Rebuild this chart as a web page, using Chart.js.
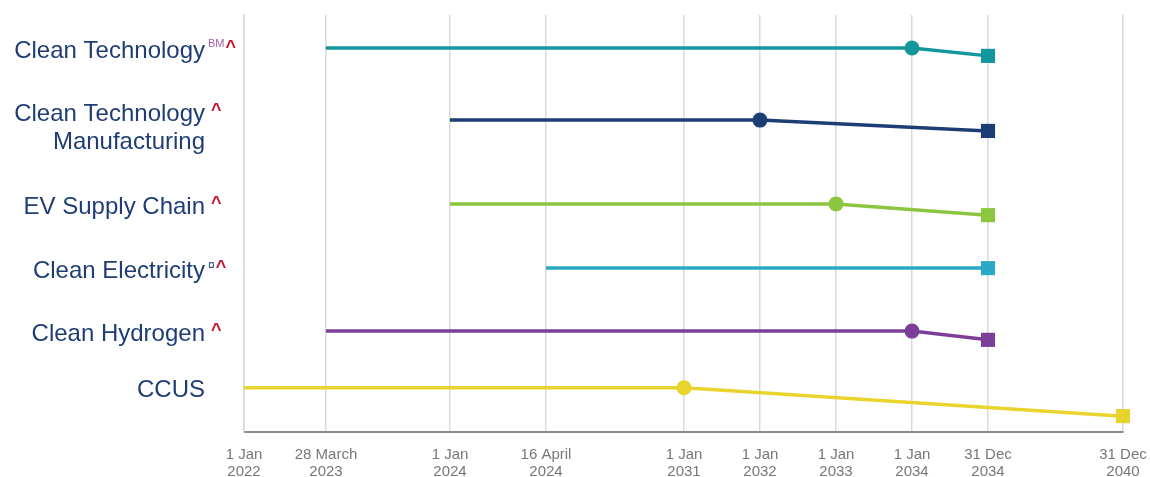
<!DOCTYPE html>
<html>
<head>
<meta charset="utf-8">
<script src="https://cdn.jsdelivr.net/npm/chart.js@4/dist/chart.umd.min.js"></script>
<style>
  html, body { margin: 0; padding: 0; background: #fff; }
  #wrap { width: 1150px; height: 477px; }
</style>
</head>
<body>
<div id="wrap"><canvas id="timeline"></canvas></div>
<script>
// timeline ticks (the axis is schematic, not proportional to time)
var tickLabels = [
  ['1 Jan', '2022'], ['28 March', '2023'], ['1 Jan', '2024'], ['16 April', '2024'],
  ['1 Jan', '2031'], ['1 Jan', '2032'], ['1 Jan', '2033'], ['1 Jan', '2034'],
  ['31 Dec', '2034'], ['31 Dec', '2040']
];
var tickOffsets = [0, 82, 206, 302, 440, 516, 592, 668, 744, 879];

var categories = ['Clean Technology', 'Clean Technology\nManufacturing', 'EV Supply Chain',
  'Clean Electricity', 'Clean Hydrogen', 'CCUS'];
var colors = ['#12979c', '#1d3e74', '#8cc640', '#2aa9c6', '#7c3f99', '#e8d42c'];

// index into tickLabels for start, milestone (circle) and end (square)
var startTick     = [1, 2, 2, 3, 1, 0];
var milestoneTick = [7, 5, 6, null, 7, 4];
var endTick       = [8, 8, 8, 8, 8, 9];
// vertical level (0 = top, 10 = bottom)
var rowLevel = [0.79, 2.52, 4.53, 6.07, 7.58, 8.94];
var endLevel = [0.98, 2.78, 4.80, 6.07, 7.79, 9.62];

var red = '#c8102e';
var navy = '#1f3d74';
// superscript notes: text, colour, font size, raise above baseline
var notes = [
  [['BM', '#a55eaa', 11, 11], ['^', red, 18, 5]],
  [['^', red, 18, 5]],
  [['^', red, 18, 5]],
  [['\u00a4', navy, 12, 9], ['^', red, 18, 5]],
  [['^', red, 18, 5]],
  []
];

var datasets = categories.map(function(name, i) {
  var pts = [{x: tickOffsets[startTick[i]], y: rowLevel[i]}];
  var styles = [false], radii = [0];
  if (milestoneTick[i] !== null) {
    pts.push({x: tickOffsets[milestoneTick[i]], y: rowLevel[i]});
    styles.push('circle'); radii.push(7.5);
  }
  pts.push({x: tickOffsets[endTick[i]], y: endLevel[i]});
  styles.push('rect'); radii.push(10);
  return {
    label: name.replace('\n', ' '),
    data: pts,
    borderColor: colors[i],
    backgroundColor: colors[i],
    borderWidth: 3.5,
    pointStyle: styles,
    pointRadius: radii,
    pointBorderWidth: 0,
    pointHoverRadius: radii,
    tension: 0,
    clip: false
  };
});

var rowLabels = {
  id: 'rowLabels',
  afterDraw: function(chart) {
    var ctx = chart.ctx;
    var ys = chart.scales.y;
    ctx.save();
    categories.forEach(function(name, i) {
      var lines = name.split('\n');
      var y = ys.getPixelForValue(rowLevel[i]);
      var centers = lines.length > 1 ? [y - 8, y + 20] : [y + 1];
      ctx.font = '24px "Liberation Sans", Arial, sans-serif';
      ctx.fillStyle = navy;
      ctx.textAlign = 'right';
      ctx.textBaseline = 'alphabetic';
      lines.forEach(function(l, k) {
        ctx.fillText(l, 205, centers[k] + 8.6);
      });
      var x = notes[i].length === 1 ? 211 : 208;
      var base = centers[0] + 8.6;
      ctx.textAlign = 'left';
      notes[i].forEach(function(n) {
        ctx.font = (n[0] === '^' ? 'bold ' : '') + n[2] + 'px "Liberation Sans", Arial, sans-serif';
        ctx.fillStyle = n[1];
        ctx.fillText(n[0], x, base - n[3]);
        x += ctx.measureText(n[0]).width + 1;
      });
    });
    ctx.restore();
  }
};

new Chart(document.getElementById('timeline'), {
  type: 'line',
  data: { datasets: datasets },
  options: {
    responsive: true,
    maintainAspectRatio: false,
    animation: false,
    layout: { padding: { top: 15, right: 27, left: 0, bottom: 0 } },
    plugins: { legend: { display: false }, tooltip: { enabled: false } },
    scales: {
      x: {
        type: 'linear',
        min: 0,
        max: tickOffsets[tickOffsets.length - 1],
        afterBuildTicks: function(scale) {
          scale.ticks = tickOffsets.map(function(v) { return {value: v}; });
        },
        afterFit: function(scale) {
          scale.height = 45;
          scale.paddingLeft = 0;
          scale.paddingRight = 0;
        },
        ticks: {
          autoSkip: false,
          maxRotation: 0,
          padding: 14,
          color: '#777777',
          font: { family: '"Liberation Sans", Arial, sans-serif', size: 15, lineHeight: 1.15 },
          callback: function(v, i) { return tickLabels[i]; }
        },
        grid: { color: '#d9d9d9', lineWidth: 1.5, drawTicks: false },
        border: { color: '#8a8a8a', width: 2 }
      },
      y: {
        type: 'linear',
        min: 0,
        max: 10,
        reverse: true,
        afterFit: function(scale) { scale.width = 244; },
        ticks: { display: false },
        grid: { display: false },
        border: { color: '#d9d9d9', width: 1.5 }
      }
    }
  },
  plugins: [rowLabels]
});
</script>
</body>
</html>
